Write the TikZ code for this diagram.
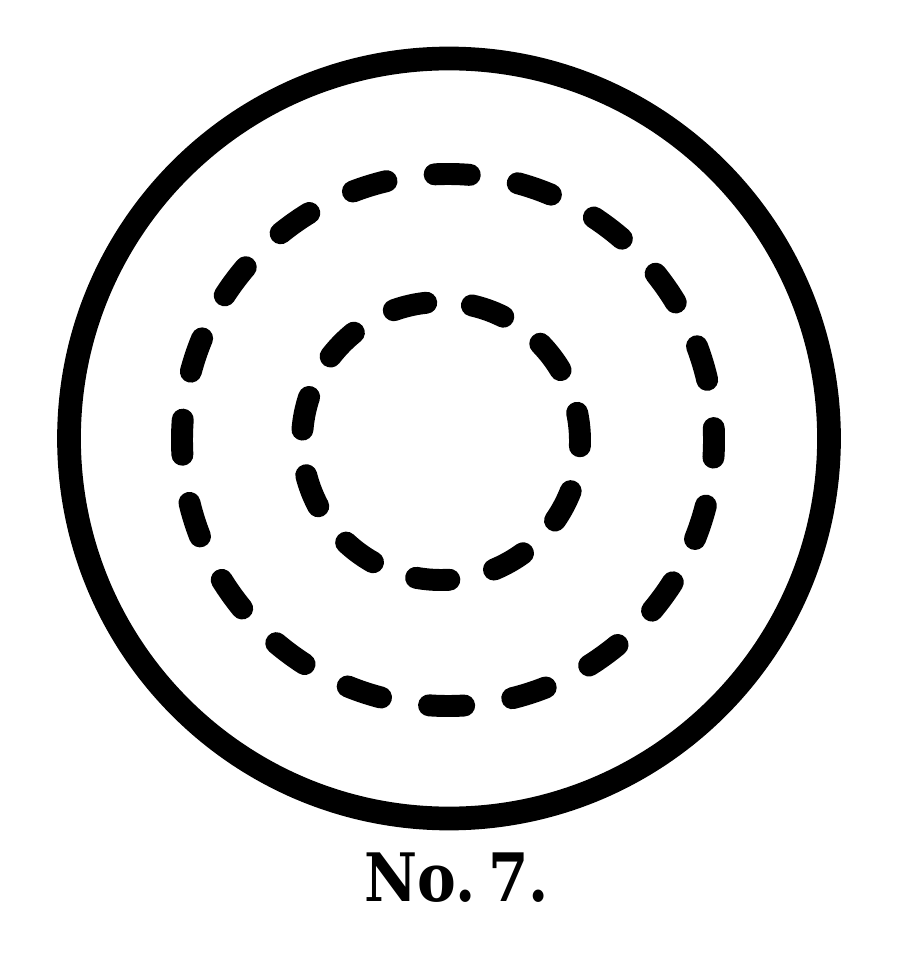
\documentclass[tikz,border=0pt]{standalone}
\usepackage{fontspec}
\newfontfamily\capfont{DejaVu Serif}
\begin{document}
\begin{tikzpicture}[x=0.02cm,y=-0.02cm,
  outerring/.style={line width=13.5pt},
  dashring/.style={line width=12.5pt,line cap=round},
  caption/.style={font=\capfont\bfseries\fontsize{38}{40}\selectfont,inner sep=0pt}]
\useasboundingbox (0,0) rectangle (917,972);
\coordinate (c0) at (449,438.5);
\coordinate (c1) at (448,440);
\coordinate (c2) at (441,441);
\draw[outerring] (c0) circle [radius=380];
\draw[dashring,dash pattern=on 20pt off 27.73pt,dash phase=10pt] (c1) circle [radius=266];
\draw[dashring,dash pattern=on 19pt off 26.18pt,dash phase=16pt] (c2) circle [radius=139];
\node[caption] (cap) at (457,878) {\scalebox{0.87}[1]{No.\hspace{0.22em}7.}};
\end{tikzpicture}
\end{document}
